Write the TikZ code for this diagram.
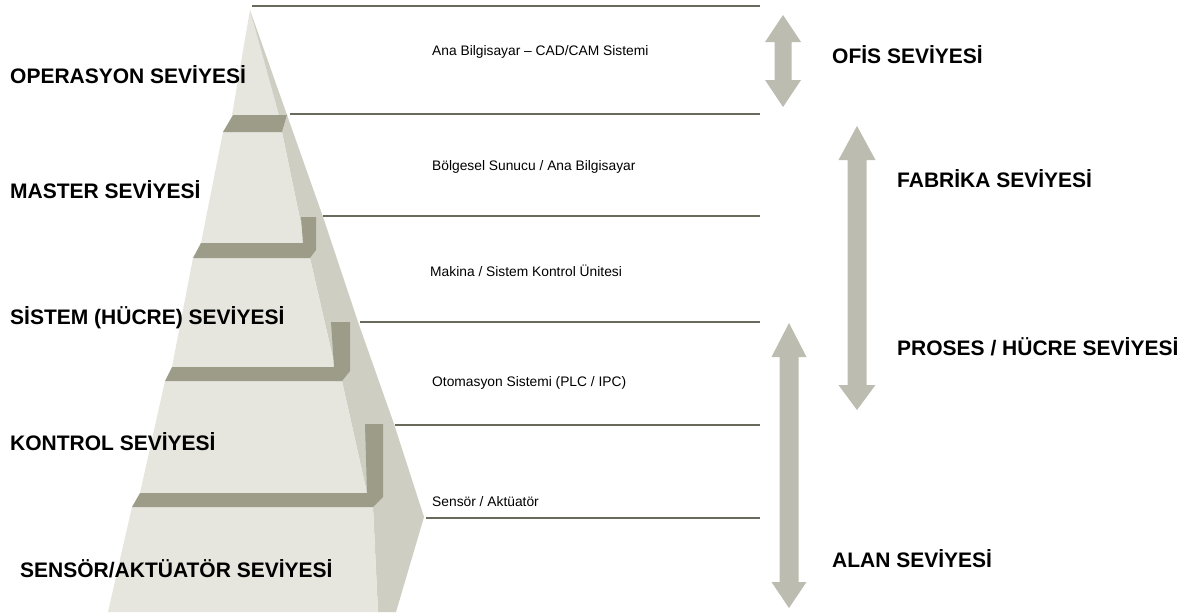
\documentclass[tikz,border=0pt]{standalone}
\usepackage{fontspec}
\setmainfont{Liberation Sans}
\definecolor{frontc}{RGB}{230,230,223}
\definecolor{sidec}{RGB}{206,206,195}
\definecolor{bandc}{RGB}{156,156,136}
\definecolor{linec}{RGB}{105,105,92}
\definecolor{arrc}{RGB}{188,188,176}
\tikzset{
  biglabel/.style={font=\fontsize{21}{25}\selectfont\bfseries, anchor=base west, inner sep=0pt},
  smalllabel/.style={font=\fontsize{13.8}{16}\selectfont, anchor=base west, inner sep=0pt},
  levelline/.style={draw=linec, line width=1.5pt},
  frontface/.style={fill=frontc},
  sideface/.style={fill=sidec},
  topband/.style={fill=bandc},
  dblarrow/.style={fill=arrc}
}
\begin{document}
\begin{tikzpicture}[x=1pt,y=-1pt]
\useasboundingbox (0,0) rectangle (1187,616);
\fill[white] (0,0) rectangle (1187,616);

% ---- pyramid ----
% tip
\fill[frontface] (250,10) -- (232,115) -- (279,115) -- cycle;
\fill[sideface] (250,10) -- (279,115) -- (287,115) -- cycle;
% block 1
\fill[sideface] (282,132) -- (287,115) -- (323,217) -- (316,217) -- (316,258) -- (305,243) -- cycle;
\fill[frontface] (223,132) -- (282,132) -- (305,243) -- (201,243) -- cycle;
\fill[topband] (233,115) -- (287,115) -- (282,132) -- (223,132) -- cycle;
% block 2
\fill[sideface] (310,258) -- (316,217) -- (323,217) -- (358,322) -- (350,322) -- (350,381) -- (335,367) -- cycle;
\fill[frontface] (193,258) -- (310,258) -- (335,367) -- (172,367) -- cycle;
\fill[topband] (201,243) -- (303,243) -- (301,217) -- (316,217) -- (316,250) -- (310,258) -- (193,258) -- cycle;
% block 3
\fill[sideface] (342,381) -- (350,322) -- (358,322) -- (394,424) -- (383,424) -- (383,507) -- (367,493) -- cycle;
\fill[frontface] (165,381) -- (342,381) -- (367,493) -- (140,493) -- cycle;
\fill[topband] (172,367) -- (334,367) -- (331,322) -- (350,322) -- (350,371) -- (342,381) -- (165,381) -- cycle;
% block 4
\fill[sideface] (373,507) -- (383,424) -- (394,424) -- (424,517) -- (396,612) -- (378,612) -- cycle;
\fill[frontface] (132,507) -- (373,507) -- (378,612) -- (108,612) -- cycle;
\fill[topband] (140,493) -- (367,493) -- (365,424) -- (383,424) -- (383,497) -- (373,507) -- (132,507) -- cycle;

% ---- level lines ----
\coordinate (l1a) at (252,6);   \coordinate (l1b) at (760,6);
\coordinate (l2a) at (290,114); \coordinate (l2b) at (760,114);
\coordinate (l3a) at (323,216); \coordinate (l3b) at (760,216);
\coordinate (l4a) at (360,322); \coordinate (l4b) at (760,322);
\coordinate (l5a) at (395,425); \coordinate (l5b) at (760,425);
\coordinate (l6a) at (426,518); \coordinate (l6b) at (760,518);
\draw[levelline] (l1a) -- (l1b);
\draw[levelline] (l2a) -- (l2b);
\draw[levelline] (l3a) -- (l3b);
\draw[levelline] (l4a) -- (l4b);
\draw[levelline] (l5a) -- (l5b);
\draw[levelline] (l6a) -- (l6b);

% ---- double arrows ----
\fill[dblarrow] (783,15) -- (801,42) -- (791.5,42) -- (791.5,80) -- (801,80) -- (783,107) -- (765,80) -- (774.5,80) -- (774.5,42) -- (765,42) -- cycle;
\fill[dblarrow] (857,126) -- (875.5,160) -- (866.5,160) -- (866.5,385) -- (875.5,385) -- (857,410) -- (838.5,385) -- (847.5,385) -- (847.5,160) -- (838.5,160) -- cycle;
\fill[dblarrow] (789,323) -- (806.5,357) -- (798.5,357) -- (798.5,582) -- (806.5,582) -- (789,608) -- (771.5,582) -- (779.5,582) -- (779.5,357) -- (771.5,357) -- cycle;

% ---- left labels ----
\node[biglabel] (op) at (10,83) {OPERASYON SEVİYESİ};
\node[biglabel] (ma) at (10,198) {MASTER SEVİYESİ};
\node[biglabel] (si) at (10,324) {SİSTEM (HÜCRE) SEVİYESİ};
\node[biglabel] (ko) at (10,450) {KONTROL SEVİYESİ};
\node[biglabel] (se) at (20,577) {SENSÖR/AKTÜATÖR SEVİYESİ};

% ---- middle labels ----
\node[smalllabel] (t1) at (432,55) {Ana Bilgisayar – CAD/CAM Sistemi};
\node[smalllabel] (t2) at (432,170) {Bölgesel Sunucu / Ana Bilgisayar};
\node[smalllabel] (t3) at (430,276) {Makina / Sistem Kontrol Ünitesi};
\node[smalllabel] (t4) at (432,386) {Otomasyon Sistemi (PLC / IPC)};
\node[smalllabel] (t5) at (432,506) {Sensör / Aktüatör};

% ---- right labels ----
\node[biglabel] (of) at (832,63) {OFİS SEVİYESİ};
\node[biglabel] (fa) at (897,187) {FABRİKA SEVİYESİ};
\node[biglabel] (pr) at (897,355) {PROSES / HÜCRE SEVİYESİ};
\node[biglabel] (al) at (832,567) {ALAN SEVİYESİ};
\end{tikzpicture}
\end{document}
